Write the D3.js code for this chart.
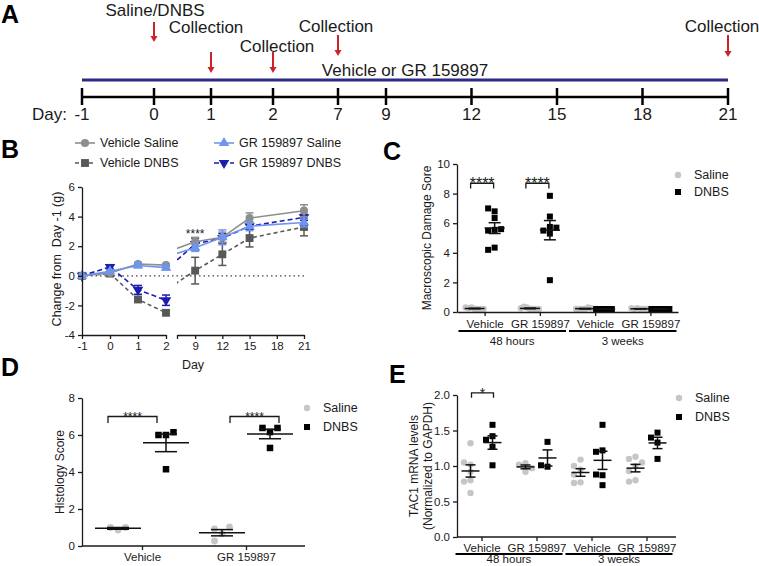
<!DOCTYPE html>
<html>
<head>
<meta charset="utf-8">
<script src="https://cdn.jsdelivr.net/npm/d3@7"></script>
<style>
  body { margin: 0; background: #fff; }
</style>
</head>
<body>
<svg id="fig" width="759" height="566"></svg>
<script>
// ---- data ----

// panel A: timeline
var timelineDays = [-1, 0, 1, 2, 7, 9, 12, 15, 18, 21];
var timelineEvents = ["Saline/DNBS", "Collection", "Collection", "Collection", "Collection"];
var timelineEventDays = [0, 1, 2, 7, 21];

// panel B: body weight change (mean, SEM)
var bDays = [-1, 0, 1, 2, 9, 12, 15, 21];
var vehSalineMean = [0, 0.2, 0.8, 0.72, 2.3, 2.6, 3.9, 4.4];
var vehSalineErr  = [0, 0.1, 0.1, 0.1, 0.3, 0.35, 0.35, 0.4];
var vehDnbsMean   = [0, 0.15, -1.6, -2.5, 0.35, 1.45, 2.55, 3.3];
var vehDnbsErr    = [0, 0.1, 0.1, 0.15, 0.9, 0.75, 0.6, 0.6];
var grSalineMean  = [0, 0.3, 0.7, 0.55, 1.9, 2.6, 3.35, 3.6];
var grSalineErr   = [0, 0.1, 0.15, 0.15, 0.25, 0.5, 0.3, 0.3];
var grDnbsMean    = [0, 0.6, -0.95, -1.65, 2.15, 2.55, 3.35, 3.95];
var grDnbsErr     = [0, 0.15, 0.3, 0.35, 0.4, 0.3, 0.2, 0.2];

// panels C and E share these categories
var treatLabels = ["Vehicle", "GR 159897", "Vehicle", "GR 159897"];
var timeGroups = ["48 hours", "3 weeks"];

// panel C: macroscopic damage score
var cSaline = [
  [0.2, 0.3, 0.2, 0.25, 0.2, 0.3, 0.2],
  [0.2, 0.3, 0.2, 0.35, 0.2, 0.25, 0.2],
  [0.2, 0.2, 0.3, 0.2, 0.25, 0.2],
  [0.2, 0.25, 0.2, 0.2, 0.2, 0.25]
];
var cDnbs = [
  [6.8, 7.0, 6.35, 5.55, 5.5, 5.6, 4.35, 4.2],
  [7.85, 6.45, 5.75, 5.5, 5.7, 5.3, 2.15],
  [0.2, 0.2, 0.2, 0.2, 0.2, 0.2, 0.2, 0.2],
  [0.2, 0.2, 0.2, 0.2, 0.2, 0.2, 0.2]
];

// panel D: histology score
var dLabels = ["Vehicle", "GR 159897"];
var dSaline = [[0.86, 1.0, 1.0], [0.65, 0.92, 1.03, 0.27]];
var dDnbs = [[6.0, 6.0, 6.15, 4.15], [6.16, 6.38, 6.38, 5.3]];

// panel E: TAC1 mRNA
var eSaline = [
  [1.32, 1.02, 1.05, 0.92, 0.8, 0.78, 0.62],
  [1.04, 1.02, 0.97, 0.92],
  [1.09, 1.0, 0.95, 0.88, 0.77, 0.76],
  [1.13, 1.1, 1.05, 1.0, 0.93, 0.8, 0.78]
];
var eDnbs = [
  [1.58, 1.42, 1.37, 1.27, 1.01],
  [1.34, 0.99, 1.01],
  [1.58, 1.22, 1.2, 0.87, 0.88, 0.73],
  [1.47, 1.4, 1.33, 1.1]
];

// ---- drawing ----
var font = '"Liberation Sans", Arial, Helvetica, sans-serif';
var ink = "#1a1a1a";
var salineGrey = "#c6c6c6";
var svg = d3.select("#fig").attr("font-family", font);
var plainNum = function(d) { return String(d); };

function panelLetter(x, y, t) {
  svg.append("text").attr("x", x).attr("y", y)
    .style("font-size", "25px").style("font-weight", "bold").attr("fill", "#000").text(t);
}

function styleAxis(g) {
  g.attr("font-family", font).attr("font-size", 11.5);
  g.selectAll(".domain, .tick line").attr("stroke", ink).attr("stroke-width", 1.3);
  g.selectAll(".tick text").attr("fill", ink);
  return g;
}

function yTitle(cx, cy, lines, size) {
  var t = svg.append("text")
    .attr("transform", "translate(" + cx + "," + cy + ") rotate(-90)")
    .attr("text-anchor", "middle").style("font-size", size + "px")
    .style("white-space", "pre").attr("fill", ink);
  lines.forEach(function(l, i) {
    t.append("tspan").attr("x", 0)
      .attr("dy", i === 0 ? (0.35 - (lines.length - 1) * 0.6) + "em" : "1.2em").text(l);
  });
}

// spread points that would overlap (simple beeswarm)
function swarmOffsets(values, y, d, maxHalf) {
  var placed = [];
  values.forEach(function(v) {
    var py = y(v), k = 0, off;
    do {
      off = k === 0 ? 0 : (k % 2 ? -1 : 1) * Math.ceil(k / 2) * d;
      k++;
    } while (placed.some(function(p) { return Math.hypot(p.off - off, p.y - py) < d - 0.01; }));
    placed.push({off: off, y: py});
  });
  var m = d3.max(placed, function(p) { return Math.abs(p.off); }) || 0;
  var s = m > maxHalf ? maxHalf / m : 1;
  return placed.map(function(p) { return p.off * s; });
}

function dotPanel(g, x, y, saline, dnbs, o) {
  [saline, dnbs].forEach(function(sets, s) {
    sets.forEach(function(vals, i) {
      var cx = x(i) + (s ? o.off : -o.off);
      var offs = swarmOffsets(vals, y, o.dist, o.maxHalf);
      if (s === 0) {
        g.selectAll(null).data(vals).enter().append("circle")
          .attr("cx", function(d, j) { return cx + offs[j]; })
          .attr("cy", function(d) { return y(d); })
          .attr("r", o.r).attr("fill", salineGrey);
      } else {
        g.selectAll(null).data(vals).enter().append("rect")
          .attr("x", function(d, j) { return cx + offs[j] - o.sq / 2; })
          .attr("y", function(d) { return y(d) - o.sq / 2; })
          .attr("width", o.sq).attr("height", o.sq).attr("fill", "#000");
      }
      var m = d3.mean(vals);
      var sem = vals.length > 1 ? d3.deviation(vals) / Math.sqrt(vals.length) : 0;
      var bar = g.append("g").attr("stroke", "#111").attr("stroke-width", 1.5);
      bar.append("line").attr("x1", cx - o.meanW / 2).attr("x2", cx + o.meanW / 2)
        .attr("y1", y(m)).attr("y2", y(m));
      bar.append("line").attr("x1", cx).attr("x2", cx)
        .attr("y1", y(m - sem)).attr("y2", y(m + sem));
      [m - sem, m + sem].forEach(function(v) {
        bar.append("line").attr("x1", cx - o.capW / 2).attr("x2", cx + o.capW / 2)
          .attr("y1", y(v)).attr("y2", y(v));
      });
    });
  });
}

function bracket(g, x1, x2, yTop, yLeg, label, size) {
  g.append("path")
    .attr("d", "M" + x1 + "," + yLeg + "V" + yTop + "H" + x2 + "V" + yLeg)
    .attr("fill", "none").attr("stroke", ink).attr("stroke-width", 1.3);
  g.append("text").attr("x", (x1 + x2) / 2).attr("y", yTop - 1 + size * 0.45)
    .attr("text-anchor", "middle").style("font-size", size + "px").attr("fill", ink).text(label);
}

function dotLegend(x, y1, y2) {
  svg.append("circle").attr("cx", x).attr("cy", y1).attr("r", 3.2).attr("fill", salineGrey);
  svg.append("rect").attr("x", x - 3).attr("y", y2 - 3).attr("width", 6).attr("height", 6).attr("fill", "#000");
  [["Saline", y1], ["DNBS", y2]].forEach(function(d) {
    svg.append("text").attr("x", x + 16).attr("y", d[1]).attr("dy", "0.35em")
      .style("font-size", "12.5px").attr("fill", ink).text(d[0]);
  });
}

// ================= A =================
panelLetter(1, 23, "A");
var xA = d3.scaleLinear().domain([-1, 0, 1, 2, 7, 9, 21]).range([82, 154, 211, 273, 338, 386, 728]);
var gA = svg.append("g");
gA.append("line").attr("x1", xA(-1)).attr("x2", xA(21)).attr("y1", 80).attr("y2", 80)
  .attr("stroke", "#2c2a86").attr("stroke-width", 3);
gA.append("text").attr("x", (xA(-1) + xA(21)) / 2).attr("y", 76).attr("text-anchor", "middle")
  .style("font-size", "17px").attr("fill", ink).text("Vehicle or GR 159897");
gA.append("line").attr("x1", xA(-1)).attr("x2", xA(21)).attr("y1", 97).attr("y2", 97)
  .attr("stroke", "#000").attr("stroke-width", 2.5);
gA.selectAll(null).data(timelineDays).enter().append("line")
  .attr("x1", function(d) { return xA(d); }).attr("x2", function(d) { return xA(d); })
  .attr("y1", 88).attr("y2", 105).attr("stroke", "#000").attr("stroke-width", 2.5);
gA.selectAll(null).data(timelineDays).enter().append("text")
  .attr("x", function(d) { return xA(d); }).attr("y", 120).attr("text-anchor", "middle")
  .style("font-size", "17px").attr("fill", ink).text(plainNum);
gA.append("text").attr("x", 67).attr("y", 120).attr("text-anchor", "end")
  .style("font-size", "17px").attr("fill", ink).text("Day:");

// label / arrow placement for each event (text baseline, arrow top, arrow tip, text shift)
var eventLayout = [[16, 22, 42, 1], [33, 52, 73, -5], [52, 52, 73, 4], [32, 35, 56, -2], [32, 35, 57, -6]];
var arrowRed = "#cc2229";
timelineEvents.forEach(function(label, i) {
  var x = xA(timelineEventDays[i]), L = eventLayout[i];
  gA.append("text").attr("x", x + L[3]).attr("y", L[0]).attr("text-anchor", "middle")
    .style("font-size", "17px").attr("fill", ink).text(label);
  gA.append("line").attr("x1", x).attr("x2", x).attr("y1", L[1]).attr("y2", L[2] - 5)
    .attr("stroke", arrowRed).attr("stroke-width", 2);
  gA.append("path").attr("d", "M" + (x - 3.5) + "," + (L[2] - 6) + "L" + (x + 3.5) + "," + (L[2] - 6) + "L" + x + "," + L[2] + "Z")
    .attr("fill", arrowRed);
});

// ================= B =================
panelLetter(1, 158, "B");
var yB = d3.scaleLinear().domain([-4, 6]).range([335, 187]);
var xBL = d3.scaleLinear().domain([-1, 2]).range([82, 166]);
var xBR = d3.scaleLinear().domain([7, 21]).range([177, 304]);
function xB(d) { return d <= 2 ? xBL(d) : xBR(d); }

var defs = svg.append("defs");
defs.append("clipPath").attr("id", "clipBL").append("rect").attr("x", 82).attr("y", 170).attr("width", 84.5).attr("height", 170);
defs.append("clipPath").attr("id", "clipBR").append("rect").attr("x", 177).attr("y", 170).attr("width", 130).attr("height", 170);

var gB = svg.append("g");
// zero reference line
gB.append("line").attr("x1", 82).attr("x2", 305).attr("y1", yB(0)).attr("y2", yB(0))
  .attr("stroke", "#444").attr("stroke-width", 1.3).attr("stroke-dasharray", "1.5,3");

var bSeries = [
  {name: "Vehicle DNBS", mean: vehDnbsMean, err: vehDnbsErr, color: "#585858", dash: "4,3", sym: d3.symbolSquare, size: 62, rot: 0, leg: [85, 163]},
  {name: "GR 159897 DNBS", mean: grDnbsMean, err: grDnbsErr, color: "#1c1cb0", dash: "5,3", sym: d3.symbolTriangle, size: 48, rot: 180, leg: [224, 163]},
  {name: "Vehicle Saline", mean: vehSalineMean, err: vehSalineErr, color: "#8e8e8e", dash: null, sym: d3.symbolCircle, size: 52, rot: 0, leg: [85, 143]},
  {name: "GR 159897 Saline", mean: grSalineMean, err: grSalineErr, color: "#6f95ee", dash: null, sym: d3.symbolTriangle, size: 48, rot: 0, leg: [224, 143]}
];

bSeries.forEach(function(s) {
  var pts = bDays.map(function(d, i) { return {day: d, m: s.mean[i], e: s.err[i]}; });
  [[xBL, "clipBL"], [xBR, "clipBR"]].forEach(function(p) {
    var line = d3.line().x(function(d) { return p[0](d.day); }).y(function(d) { return yB(d.m); });
    gB.append("path").datum(pts).attr("d", line).attr("clip-path", "url(#" + p[1] + ")")
      .attr("fill", "none").attr("stroke", s.color).attr("stroke-width", 1.6)
      .attr("stroke-dasharray", s.dash);
  });
  var eb = gB.append("g").attr("stroke", s.color).attr("stroke-width", 1.5);
  pts.filter(function(d) { return d.e > 0; }).forEach(function(d) {
    var x = xB(d.day);
    eb.append("line").attr("x1", x).attr("x2", x).attr("y1", yB(d.m - d.e)).attr("y2", yB(d.m + d.e));
    [d.m - d.e, d.m + d.e].forEach(function(v) {
      eb.append("line").attr("x1", x - 4).attr("x2", x + 4).attr("y1", yB(v)).attr("y2", yB(v));
    });
  });
  gB.selectAll(null).data(pts).enter().append("path")
    .attr("d", d3.symbol().type(s.sym).size(s.size))
    .attr("transform", function(d) { return "translate(" + xB(d.day) + "," + yB(d.m) + ") rotate(" + s.rot + ")"; })
    .attr("fill", s.color);

  // legend entry
  var p = s.leg;
  svg.append("line").attr("x1", p[0] - 10).attr("x2", p[0] + 10).attr("y1", p[1]).attr("y2", p[1])
    .attr("stroke", s.color).attr("stroke-width", 1.6).attr("stroke-dasharray", s.dash);
  svg.append("path").attr("d", d3.symbol().type(s.sym).size(s.size))
    .attr("transform", "translate(" + p[0] + "," + p[1] + ") rotate(" + s.rot + ")").attr("fill", s.color);
  svg.append("text").attr("x", p[0] + 15).attr("y", p[1]).attr("dy", "0.35em")
    .style("font-size", "12.5px").attr("fill", ink).text(s.name);
});

gB.append("text").attr("x", xBR(9)).attr("y", 238).attr("text-anchor", "middle")
  .style("font-size", "12px").attr("fill", ink).text("****");

styleAxis(gB.append("g").attr("transform", "translate(82,0)")
  .call(d3.axisLeft(yB).tickValues([-4, -2, 0, 2, 4, 6]).tickFormat(plainNum).tickSize(4).tickSizeOuter(0)));
styleAxis(gB.append("g").attr("transform", "translate(0,335)")
  .call(d3.axisBottom(xBL).tickValues([-1, 0, 1, 2]).tickFormat(plainNum).tickSize(4).tickSizeOuter(0)));
styleAxis(gB.append("g").attr("transform", "translate(0,335)")
  .call(d3.axisBottom(xBR).tickValues([7, 9, 12, 15, 18, 21]).tickSize(4).tickSizeOuter(0)
    .tickFormat(function(d) { return d === 7 ? "" : String(d); })));
svg.append("text").attr("x", 193).attr("y", 369).attr("text-anchor", "middle")
  .style("font-size", "12.5px").attr("fill", ink).text("Day");
yTitle(57, 259, ["Change from  Day -1 (g)"], 12.5);

// ================= C =================
panelLetter(383, 160, "C");
var xC = d3.scalePoint().domain(d3.range(4)).range([457, 678]).padding(0.5);
var yC = d3.scaleLinear().domain([0, 10]).range([312, 164]);
var gC = svg.append("g");
dotPanel(gC, xC, yC, cSaline, cDnbs, {off: 10, dist: 6.5, maxHalf: 9, r: 3.2, sq: 6, meanW: 20, capW: 12});
styleAxis(gC.append("g").attr("transform", "translate(457,0)")
  .call(d3.axisLeft(yC).tickValues([0, 2, 4, 6, 8, 10]).tickFormat(plainNum).tickSize(4).tickSizeOuter(0)));
styleAxis(gC.append("g").attr("transform", "translate(0,312)")
  .call(d3.axisBottom(xC).tickSize(4).tickSizeOuter(0).tickPadding(4)
    .tickFormat(function(i) { return treatLabels[i]; })));
bracket(gC, xC(0) - 14, xC(0) + 9, yC(8.7), yC(8.35), "****", 16);
bracket(gC, xC(1) - 14, xC(1) + 9, yC(8.7), yC(8.35), "****", 16);
yTitle(427, 238, ["Macroscopic Damage Sore"], 12);
dotLegend(678, 175, 192);

function timeBars(x, yLine, yText) {
  var step = x.step();
  timeGroups.forEach(function(t, k) {
    var x1 = x(k * 2) - step / 2 + 1.5, x2 = x(k * 2 + 1) + step / 2 - 1.5;
    svg.append("line").attr("x1", x1).attr("x2", x2).attr("y1", yLine).attr("y2", yLine)
      .attr("stroke", "#000").attr("stroke-width", 2.2);
    svg.append("text").attr("x", (x1 + x2) / 2).attr("y", yText).attr("text-anchor", "middle")
      .style("font-size", "11.5px").attr("fill", ink).text(t);
  });
}
timeBars(xC, 331, 345);

// ================= D =================
panelLetter(1, 376, "D");
var xD = d3.scalePoint().domain([0, 1]).range([90, 298]).padding(0.5);
var yD = d3.scaleLinear().domain([0, 8]).range([546, 398]);
var gD = svg.append("g");
dotPanel(gD, xD, yD, dSaline, dDnbs, {off: 24, dist: 7.5, maxHalf: 10, r: 3.4, sq: 6.5, meanW: 46, capW: 22});
styleAxis(gD.append("g").attr("transform", "translate(82,0)")
  .call(d3.axisLeft(yD).tickValues([0, 2, 4, 6, 8]).tickFormat(plainNum).tickSize(4).tickSizeOuter(0)));
var axD = styleAxis(gD.append("g").attr("transform", "translate(0,546)")
  .call(d3.axisBottom(xD).tickSize(4).tickSizeOuter(0).tickFormat(function(i) { return dLabels[i]; })));
axD.select(".domain").remove();
gD.append("line").attr("x1", 82).attr("x2", 305).attr("y1", 546).attr("y2", 546)
  .attr("stroke", ink).attr("stroke-width", 1.3);
bracket(gD, xD(0) - 34, xD(0) + 15, yD(7.0), yD(6.65), "****", 12);
bracket(gD, xD(1) - 16, xD(1) + 33, yD(7.0), yD(6.65), "****", 12);
yTitle(60, 472, ["Histology Score"], 12);
dotLegend(307, 408, 427);

// ================= E =================
panelLetter(389, 383, "E");
var xE = d3.scalePoint().domain(d3.range(4)).range([454, 674]).padding(0.5);
var yE = d3.scaleLinear().domain([0, 2]).range([537, 395]);
var gE = svg.append("g");
dotPanel(gE, xE, yE, eSaline, eDnbs, {off: 11, dist: 6.5, maxHalf: 8, r: 3.2, sq: 6, meanW: 18, capW: 10});
styleAxis(gE.append("g").attr("transform", "translate(457,0)")
  .call(d3.axisLeft(yE).tickValues([0, 0.5, 1, 1.5, 2]).tickFormat(d3.format(".1f")).tickSize(4).tickSizeOuter(0)));
var axE = styleAxis(gE.append("g").attr("transform", "translate(0,537)")
  .call(d3.axisBottom(xE).tickSize(4).tickSizeOuter(0).tickFormat(function(i) { return treatLabels[i]; })));
axE.select(".domain").remove();
gE.append("line").attr("x1", 457).attr("x2", 676).attr("y1", 537).attr("y2", 537)
  .attr("stroke", ink).attr("stroke-width", 1.3);
bracket(gE, xE(0) - 10, xE(0) + 12, yE(2.03), yE(1.96), "*", 14);
yTitle(421, 466, ["TAC1 mRNA levels", "(Normalized to GAPDH)"], 12);
dotLegend(679, 398, 417);
timeBars(xE, 554, 563);
</script>
</body>
</html>
